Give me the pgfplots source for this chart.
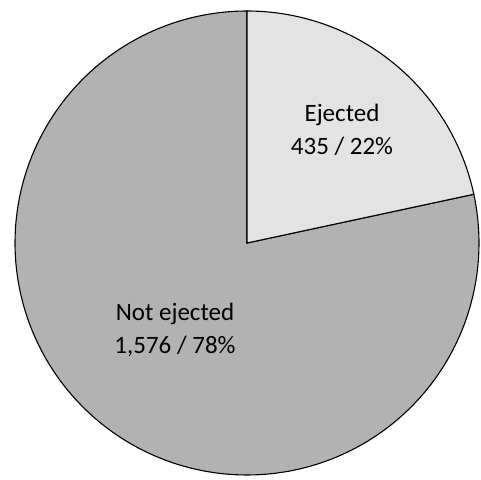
\documentclass[border=0pt]{standalone}
\usepackage{pgfplots}
\pgfplotsset{compat=1.18}
\usepackage{fontspec}
\setmainfont{Carlito}
\definecolor{lightslice}{HTML}{E3E3E3}
\definecolor{darkslice}{HTML}{B2B2B2}
\begin{document}
\begin{tikzpicture}
\pgfmathsetmacro{\ejected}{435}
\pgfmathsetmacro{\notejected}{1576}
\pgfmathsetmacro{\total}{\ejected+\notejected}
\pgfmathsetmacro{\fracej}{\ejected/\total}
\pgfmathsetmacro{\splitang}{90-360*\fracej}
\pgfmathsetmacro{\endang}{90-360}
\begin{axis}[
  x=1pt, y=1pt, scale only axis,
  xmin=-247, xmax=234, ymin=-236, ymax=243,
  axis lines=box, axis line style={draw=none},
  xtick=\empty, ytick=\empty, clip=false,
]
\addplot[data cs=polar, draw=black, line width=1.1pt, fill=darkslice, domain=\endang:\splitang, samples=200, mark=none]
  ({x},{232}) -- (axis cs:0,0) -- cycle;
\addplot[data cs=polar, draw=black, line width=1.1pt, fill=lightslice, domain=\splitang:90, samples=100, mark=none]
  ({x},{232}) -- (axis cs:0,0) -- cycle;
\node[align=center, font=\fontsize{25}{33}\selectfont] at (axis cs:95,113) {Ejected\\435 / 22\%};
\node[align=center, font=\fontsize{25}{33}\selectfont] at (axis cs:-72,-87) {Not ejected\\1,576 / 78\%};
\end{axis}
\end{tikzpicture}
\end{document}
